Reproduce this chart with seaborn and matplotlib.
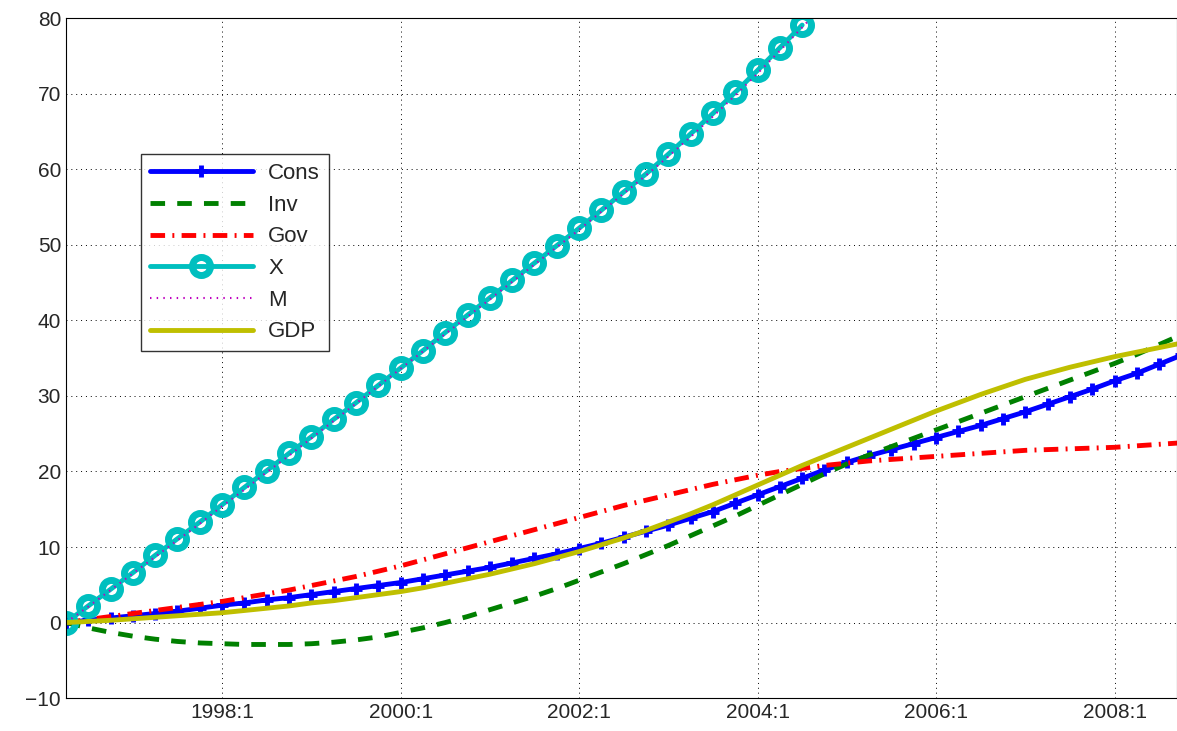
import numpy as np
import matplotlib
matplotlib.use("Agg")
import matplotlib.pyplot as plt
import seaborn as sns

# quarterly responses, 1996:2 .. 2008:4
cons = [0, 0.3, 0.6, 0.9, 1.2, 1.5, 1.9, 2.3, 2.6, 3.0, 3.3, 3.7, 4.1, 4.5, 4.9, 5.3,
        5.8, 6.3, 6.8, 7.3, 7.9, 8.5, 9.1, 9.8, 10.5, 11.3, 12.1, 12.9, 13.8, 14.7, 15.8, 16.9,
        18.0, 19.1, 20.2, 21.2, 22.1, 22.9, 23.7, 24.5, 25.3, 26.1, 27.0, 27.9, 28.9, 29.9, 30.9, 32.0,
        33.0, 34.2, 35.4]
inv = [0, -0.7, -1.3, -1.8, -2.2, -2.5, -2.7, -2.8, -2.9, -2.9, -2.9, -2.8, -2.6, -2.3, -1.9, -1.3,
       -0.7, 0.0, 0.8, 1.7, 2.6, 3.5, 4.5, 5.6, 6.7, 7.8, 9.0, 10.2, 11.5, 12.8, 14.1, 15.5,
       16.9, 18.3, 19.7, 21.0, 22.2, 23.3, 24.4, 25.5, 26.6, 27.7, 28.8, 29.9, 31.0, 32.1, 33.2, 34.3,
       35.5, 36.8, 38.1]
gov = [0, 0.4, 0.8, 1.2, 1.6, 2.0, 2.4, 2.8, 3.3, 3.8, 4.3, 4.9, 5.5, 6.1, 6.8, 7.5,
       8.3, 9.1, 9.9, 10.7, 11.5, 12.3, 13.1, 13.9, 14.7, 15.5, 16.2, 16.9, 17.6, 18.3, 18.9, 19.5,
       20.0, 20.4, 20.8, 21.1, 21.4, 21.6, 21.8, 22.0, 22.2, 22.4, 22.6, 22.8, 22.9, 23.0, 23.1, 23.2,
       23.4, 23.6, 23.8]
x_exp = [0, 2.2, 4.4, 6.6, 8.9, 11.1, 13.3, 15.6, 17.9, 20.1, 22.4, 24.6, 26.9, 29.1, 31.4, 33.7,
         36.0, 38.4, 40.7, 43.0, 45.3, 47.6, 49.9, 52.2, 54.6, 57.0, 59.4, 62.0, 64.7, 67.4, 70.2, 73.1,
         76.1, 79.1]
m_imp = [0, 2.1, 4.3, 6.5, 8.7, 10.9, 13.1, 15.4, 17.6, 19.9, 22.1, 24.4, 26.7, 29.0, 31.3, 33.6,
         35.9, 38.2, 40.5, 42.8, 45.1, 47.4, 49.7, 52.0, 54.4, 56.8, 59.2, 61.7, 64.3, 67.0, 69.8, 72.7,
         75.7, 78.8, 81.9, 85.2, 88.6, 92.1, 95.7, 99.4, 103.2, 107.1, 111.1, 115.2, 119.4, 123.7, 128.1, 132.6,
         137.2, 141.9, 146.7]
gdp = [0, 0.15, 0.3, 0.5, 0.7, 0.9, 1.1, 1.3, 1.6, 1.9, 2.2, 2.6, 2.9, 3.3, 3.7, 4.1,
       4.6, 5.2, 5.8, 6.4, 7.1, 7.8, 8.6, 9.4, 10.3, 11.2, 12.2, 13.3, 14.4, 15.6, 16.9, 18.2,
       19.5, 20.8, 22.0, 23.2, 24.4, 25.6, 26.8, 28.0, 29.1, 30.2, 31.2, 32.2, 33.0, 33.8, 34.5, 35.2,
       35.8, 36.4, 37.0]
tick_pos = [7, 15, 23, 31, 39, 47]
tick_labels = ["1998:1", "2000:1", "2002:1", "2004:1", "2006:1", "2008:1"]

sns.set_style("white")
plt.rcParams["font.family"] = ["Liberation Sans", "DejaVu Sans"]

fig = plt.figure(figsize=(11.77, 7.31), dpi=100)
ax = fig.add_axes([0.056, 0.045, 0.944, 0.930])

series = [
    ("Cons", cons, dict(color="#0000ff", lw=3.5, ls="-", marker="+", markersize=9, markeredgewidth=3.5)),
    ("Inv", inv, dict(color="#008000", lw=3.5, ls=(0, (3, 2.5)))),
    ("Gov", gov, dict(color="#ff0000", lw=3.5, ls=(0, (3, 1.5, 0.4, 1.5)))),
    ("X", x_exp, dict(color="#00bfbf", lw=3.5, ls="-", marker="o", markersize=13,
                      markerfacecolor="none", markeredgewidth=5)),
    ("M", m_imp, dict(color="#bf00bf", lw=1.5, ls=(0, (0.7, 2.5)))),
    ("GDP", gdp, dict(color="#bfbf00", lw=3.5, ls="-")),
]
for name, vals, style in series:
    ax.plot(np.arange(len(vals)), vals, label=name, **style)

ax.set_xlim(0, 49.8)
ax.set_ylim(-10, 80)
ax.set_yticks(range(-10, 81, 10))
ax.set_xticks(tick_pos)
ax.set_xticklabels(tick_labels)
ax.tick_params(direction="in", labelsize=15, length=5)
ax.grid(True, color="black", linestyle=(0, (1, 4)), lw=0.7)
for s in ax.spines.values():
    s.set_color("black")

leg = ax.legend(loc="upper left", bbox_to_anchor=(0.068, 0.80), fontsize=16, frameon=True,
                fancybox=False, edgecolor="black", handlelength=4.6, borderpad=0.4,
                labelspacing=0.48, handletextpad=0.7, borderaxespad=0)
leg.get_frame().set_linewidth(1)

fig.savefig("out.png", dpi=100)
